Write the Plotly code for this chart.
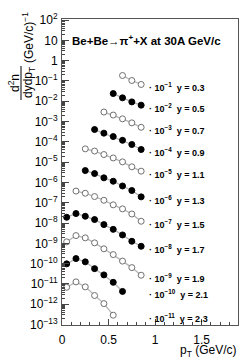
import plotly.graph_objects as go
import math

# ---------------- data ----------------
rapidities = [0.3, 0.5, 0.7, 0.9, 1.1, 1.3, 1.5, 1.7, 1.9, 2.1, 2.3]
scale_exp = [-1, -2, -3, -4, -5, -6, -7, -8, -9, -10, -11]
filled = [False, True, False, True, False, True, False, True, False, True, False]

pt_03 = [0.65, 0.75, 0.85]
v_03 = [1.85, 1.05, 0.67]
pt_05 = [0.55, 0.65, 0.75, 0.85]
v_05 = [2.39, 1.47, 0.93, 0.64]
pt_07 = [0.45, 0.55, 0.65, 0.75, 0.85]
v_07 = [2.94, 2.09, 1.36, 0.86, 0.52]
pt_09 = [0.35, 0.45, 0.55, 0.65, 0.75, 0.85]
v_09 = [4.04, 2.68, 1.82, 1.19, 0.74, 0.42]
pt_11 = [0.25, 0.35, 0.45, 0.55, 0.65, 0.75, 0.85]
v_11 = [4.52, 3.52, 2.37, 1.61, 1.03, 0.59, 0.36]
pt_13 = [0.25, 0.35, 0.45, 0.55, 0.65, 0.75, 0.85]
v_13 = [3.85, 2.74, 1.69, 1.15, 0.67, 0.40, 0.195]
pt_15 = [0.15, 0.25, 0.35, 0.45, 0.55, 0.65, 0.75, 0.85]
v_15 = [3.77, 2.94, 2.02, 1.33, 0.79, 0.50, 0.28, 0.123]
pt_17 = [0.05, 0.15, 0.25, 0.35, 0.45, 0.55, 0.65, 0.75, 0.85]
v_17 = [1.93, 2.94, 2.16, 1.49, 0.84, 0.49, 0.26, 0.127, 0.072]
pt_19 = [0.05, 0.15, 0.25, 0.35, 0.45, 0.55, 0.65, 0.75, 0.85]
v_19 = [1.19, 2.42, 1.87, 1.06, 0.54, 0.28, 0.134, 0.064, 0.027]
pt_21 = [0.05, 0.15, 0.25, 0.35, 0.45, 0.55, 0.65]
v_21 = [0.98, 1.78, 1.23, 0.57, 0.28, 0.121, 0.043]
pt_23 = [0.05, 0.15, 0.25, 0.35, 0.45, 0.55]
v_23 = [0.69, 1.27, 0.72, 0.27, 0.108, 0.029]

pts = [pt_03, pt_05, pt_07, pt_09, pt_11, pt_13, pt_15, pt_17, pt_19, pt_21, pt_23]
vals = [v_03, v_05, v_07, v_09, v_11, v_13, v_15, v_17, v_19, v_21, v_23]

ytick_exp = list(range(-13, 3))
ytick_text = ["10<sup>\u2212%d</sup>" % (-e) if e < 0 else ("1" if e == 0 else ("10" if e == 1 else "10<sup>%d</sup>" % e)) for e in ytick_exp]
xtick_vals = [0, 0.5, 1, 1.5]
xtick_text = ["0", "0.5", "1", "1.5"]

title_text = "Be+Be\u2192\u03c0<sup>+</sup>+X at 30A GeV/c"

# ---------------- layout geometry ----------------
W, H = 249, 361
L, R, T, B = 62, 11, 19, 36
pw, ph = W - L - R, H - T - B
def px_x(px):
    return (px - L) / pw
def px_y(py):
    return (H - B - py) / ph

FONT = "Liberation Sans, Arial, sans-serif"

fig = go.Figure()
for i, (pt, v) in enumerate(zip(pts, vals)):
    scaled = [a * 10 ** scale_exp[i] for a in v]
    fig.add_trace(go.Scatter(
        x=pt, y=scaled, mode="lines+markers",
        line=dict(color="#b4b4b4", width=1.3),
        marker=dict(symbol="circle", size=6,
                    color="black" if filled[i] else "white",
                    line=dict(color="black" if filled[i] else "#707070", width=1)),
        showlegend=False, hoverinfo="skip"))
    last = scaled[-1]
    fig.add_annotation(
        x=0.915, y=math.log10(last) - 0.14, xref="x", yref="y",
        text="\u00b7 10<sup>\u2212%d</sup>  y = %.1f" % (-scale_exp[i], rapidities[i]),
        showarrow=False, xanchor="left", yanchor="middle",
        font=dict(family=FONT, size=9, color="black", weight="bold"))

# title
fig.add_annotation(x=px_x(70), y=px_y(40), xref="paper", yref="paper",
                   text="<b>" + title_text + "</b>", showarrow=False,
                   xanchor="left", yanchor="middle",
                   font=dict(family=FONT, size=11.5, color="black"))

# y-axis title as stacked fraction (rotated)
fig.add_annotation(x=px_x(14), y=px_y(83), xref="paper", yref="paper",
                   text="d<sup>2</sup>n", textangle=-90, showarrow=False,
                   xanchor="center", yanchor="middle",
                   font=dict(family=FONT, size=12, color="black"))
fig.add_annotation(x=px_x(29), y=px_y(83), xref="paper", yref="paper",
                   text="dydp<sub>T</sub>", textangle=-90, showarrow=False,
                   xanchor="center", yanchor="middle",
                   font=dict(family=FONT, size=12, color="black"))
fig.add_shape(type="line", xref="paper", yref="paper",
              x0=px_x(21), x1=px_x(21), y0=px_y(66), y1=px_y(100),
              line=dict(color="black", width=1))
fig.add_annotation(x=px_x(28), y=px_y(38), xref="paper", yref="paper",
                   text="(GeV/c)<sup>\u22121</sup>", textangle=-90, showarrow=False,
                   xanchor="center", yanchor="middle",
                   font=dict(family=FONT, size=12, color="black"))

# x-axis title
fig.add_annotation(x=1.0, y=px_y(351), xref="paper", yref="paper",
                   text="p<sub>T</sub> (GeV/c)", showarrow=False,
                   xanchor="right", yanchor="middle",
                   font=dict(family=FONT, size=12, color="black"))

fig.update_layout(
    width=W, height=H, margin=dict(l=L, r=R, t=T, b=B),
    paper_bgcolor="white", plot_bgcolor="white",
    font=dict(family=FONT, size=12, color="black"),
    xaxis=dict(range=[0, 1.89], tickmode="array", tickvals=xtick_vals, ticktext=xtick_text,
               ticks="inside", ticklen=6, tickcolor="#444", showgrid=False, zeroline=False,
               showline=True, linecolor="#555", linewidth=1, mirror=True,
               ticklabelstandoff=4,
               minor=dict(dtick=0.1, ticks="inside", ticklen=3, tickcolor="#444", showgrid=False)),
    yaxis=dict(type="log", range=[-13.02, 2.05], tickmode="array",
               tickvals=[10 ** e for e in ytick_exp], ticktext=ytick_text,
               ticks="inside", ticklen=7, tickcolor="#444", showgrid=False, zeroline=False,
               showline=True, linecolor="#555", linewidth=1, mirror=True,
               ticklabelstandoff=1,
               minor=dict(dtick="D1", ticks="inside", ticklen=3, tickcolor="#444", showgrid=False)),
)

fig.write_html("out.html", config={"displayModeBar": False},
               post_script="document.body.style.margin='0px';")
